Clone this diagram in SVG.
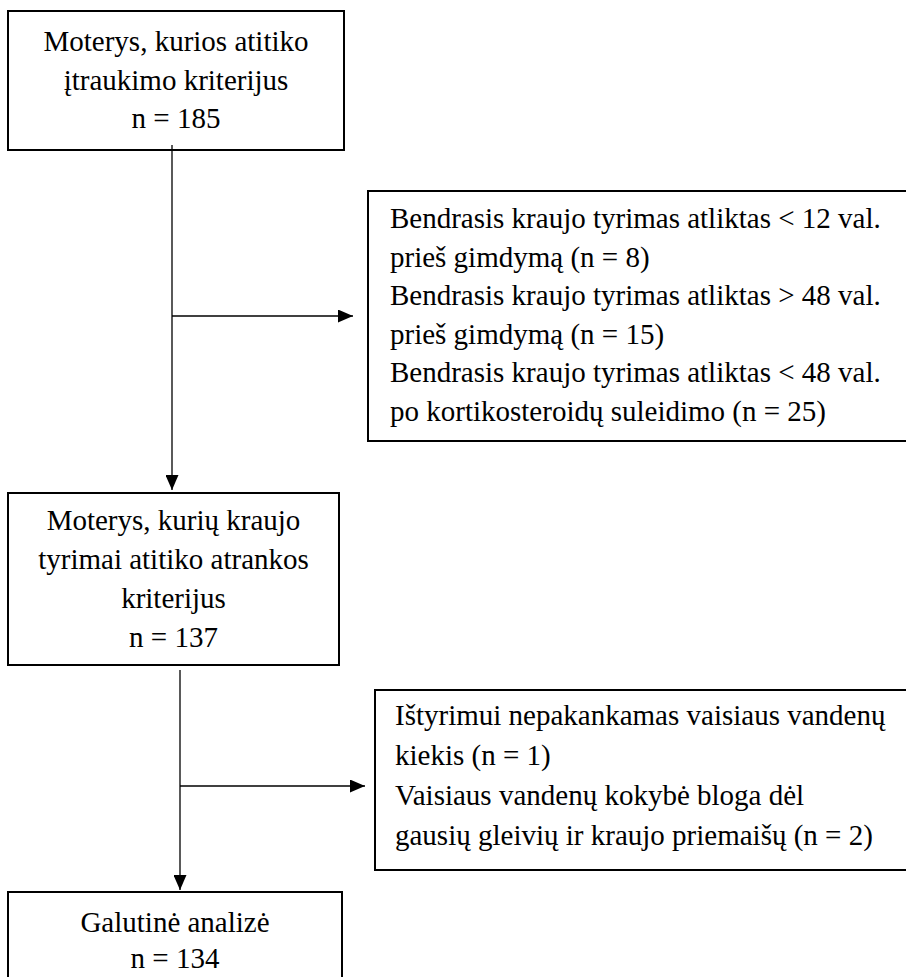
<svg xmlns="http://www.w3.org/2000/svg" width="906" height="977" viewBox="0 0 906 977" font-family="Liberation Serif, Times New Roman, serif" font-size="29">
  <style>
    .box { fill: #ffffff; stroke: #000000; stroke-width: 2; }
    .c { text-anchor: middle; }
    .conn { fill: none; stroke: #000000; stroke-width: 1.3; }
  </style>
  <defs>
    <marker id="arr" viewBox="0 0 15 13" refX="15" refY="6.5" markerWidth="15" markerHeight="13" markerUnits="userSpaceOnUse" orient="auto">
      <path d="M0,0 L15,6.5 L0,13 z" fill="#000000"/>
    </marker>
  </defs>
  <rect width="906" height="977" fill="#ffffff"/>

  <g id="node-included">
    <rect class="box" x="8" y="11" width="336" height="139"/>
    <text class="c" x="176" y="51">Moterys, kurios atitiko</text>
    <text class="c" x="176" y="89.5">įtraukimo kriterijus</text>
    <text class="c" x="176" y="128">n = 185</text>
  </g>

  <g id="node-excluded-1">
    <rect class="box" x="368" y="191" width="560" height="250"/>
    <text x="390" y="228">Bendrasis kraujo tyrimas atliktas &lt; 12 val.</text>
    <text x="390" y="266.5">prieš gimdymą (n = 8)</text>
    <text x="390" y="305">Bendrasis kraujo tyrimas atliktas &gt; 48 val.</text>
    <text x="390" y="343.5">prieš gimdymą (n = 15)</text>
    <text x="390" y="382">Bendrasis kraujo tyrimas atliktas &lt; 48 val.</text>
    <text x="390" y="420.5">po kortikosteroidų suleidimo (n = 25)</text>
  </g>

  <g id="node-eligible">
    <rect class="box" x="8" y="493" width="331" height="172"/>
    <text class="c" x="173.5" y="530">Moterys, kurių kraujo</text>
    <text class="c" x="173.5" y="569">tyrimai atitiko atrankos</text>
    <text class="c" x="173.5" y="608">kriterijus</text>
    <text class="c" x="173.5" y="647">n = 137</text>
  </g>

  <g id="node-excluded-2">
    <rect class="box" x="375" y="690" width="560" height="180"/>
    <text x="395" y="725">Ištyrimui nepakankamas vaisiaus vandenų</text>
    <text x="395" y="765">kiekis (n = 1)</text>
    <text x="395" y="805">Vaisiaus vandenų kokybė bloga dėl</text>
    <text x="395" y="845">gausių gleivių ir kraujo priemaišų (n = 2)</text>
  </g>

  <g id="node-final">
    <rect class="box" x="8" y="892" width="334" height="120"/>
    <text class="c" x="175" y="932">Galutinė analizė</text>
    <text class="c" x="175" y="968">n = 134</text>
  </g>

  <g id="connectors">
    <path class="conn" d="M172,145 L172,490" marker-end="url(#arr)"/>
    <path class="conn" d="M172,316 L353,316" marker-end="url(#arr)"/>
    <path class="conn" d="M180,670 L180,890" marker-end="url(#arr)"/>
    <path class="conn" d="M180,786 L365,786" marker-end="url(#arr)"/>
  </g>
</svg>
